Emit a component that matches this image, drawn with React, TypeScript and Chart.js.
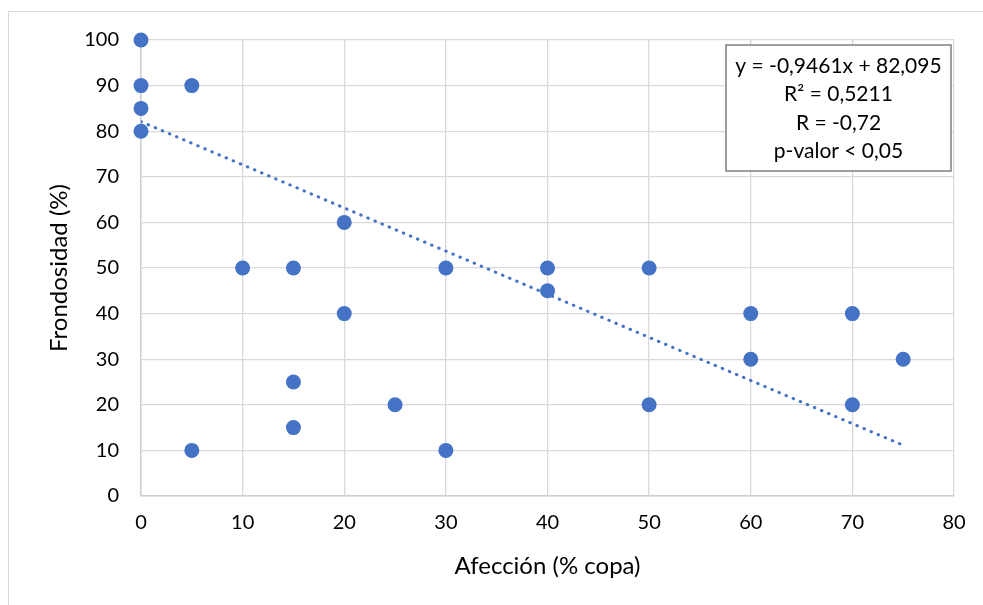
import React, { useEffect, useRef } from "react";
import { Chart, registerables } from "chart.js";

Chart.register(...registerables);

const afeccion = [0, 0, 0, 0, 5, 5, 10, 15, 15, 15, 20, 20, 25, 30, 30, 40, 40, 50, 50, 60, 60, 70, 70, 75];
const frondosidad = [100, 90, 85, 80, 90, 10, 50, 50, 25, 15, 60, 40, 20, 50, 10, 50, 45, 50, 20, 40, 30, 40, 20, 30];
const trendX = [0, 75];
const trendY = [82.095, 11.137];
const xTicks = [0, 10, 20, 30, 40, 50, 60, 70, 80];
const yTicks = [0, 10, 20, 30, 40, 50, 60, 70, 80, 90, 100];
const statLines = ["y = -0,9461x + 82,095", "R² = 0,5211", "R = -0,72", "p-valor < 0,05"];

const FONT = "Lato, 'Open Sans', sans-serif";
const BLUE = "#4472C4";
const GRID = "#d9d9d9";

const statBox = {
  id: "statBox",
  afterDatasetsDraw(chart: any) {
    const { ctx, chartArea } = chart;
    const right = chartArea.right - 3;
    const left = right - 225;
    const top = chartArea.top + 5;
    const h = 126;
    ctx.save();
    ctx.fillStyle = "#ffffff";
    ctx.fillRect(left, top, right - left, h);
    ctx.strokeStyle = "#7f7f7f";
    ctx.lineWidth = 1.5;
    ctx.strokeRect(left, top, right - left, h);
    ctx.fillStyle = "#000000";
    ctx.font = `21px ${FONT}`;
    ctx.textAlign = "center";
    ctx.textBaseline = "middle";
    const cx = (left + right) / 2;
    statLines.forEach((t, i) => {
      ctx.fillText(t, cx, top + 21 + i * 28.5);
    });
    ctx.restore();
  },
};

export default function App() {
  const ref = useRef<HTMLCanvasElement>(null);
  useEffect(() => {
    if (!ref.current) return;
    const chart = new Chart(ref.current, {
      type: "scatter",
      data: {
        datasets: [
          {
            label: "Frondosidad",
            data: afeccion.map((x, i) => ({ x, y: frondosidad[i] })),
            backgroundColor: BLUE,
            borderColor: BLUE,
            pointRadius: 7.5,
            pointHoverRadius: 7.5,
            borderWidth: 0,
            clip: false,
            order: 1,
          } as any,
          {
            type: "line",
            label: "Tendencia",
            data: trendX.map((x, i) => ({ x, y: trendY[i] })),
            borderColor: BLUE,
            borderWidth: 3,
            borderDash: [0.5, 7.2],
            borderCapStyle: "round",
            pointRadius: 0,
            fill: false,
            order: 2,
          } as any,
        ],
      },
      options: {
        animation: false,
        responsive: false,
        maintainAspectRatio: false,
        layout: { padding: { left: 0, right: 29, top: 40, bottom: 0 } },
        plugins: {
          legend: { display: false },
          tooltip: { enabled: false },
        },
        scales: {
          x: {
            type: "linear",
            min: 0,
            max: 80,
            afterFit: (s: any) => { s.height = 109; },
            afterBuildTicks: (s: any) => { s.ticks = xTicks.map((v) => ({ value: v })); },
            grid: { color: GRID, lineWidth: 1.3, drawTicks: false },
            border: { color: "#cfcfcf", width: 1.5 },
            ticks: { color: "#000", font: { family: FONT, size: 20 }, padding: 15 },
            title: {
              display: true,
              text: "Afección (% copa)",
              color: "#000",
              font: { family: FONT, size: 24 },
              padding: { top: 0, bottom: 24 },
            },
          },
          y: {
            type: "linear",
            min: 0,
            max: 100,
            afterFit: (s: any) => { s.width = 141; },
            afterBuildTicks: (s: any) => { s.ticks = yTicks.map((v) => ({ value: v })); },
            grid: { color: GRID, lineWidth: 1.3, drawTicks: false },
            border: { color: "#cfcfcf", width: 1.5 },
            ticks: { color: "#000", font: { family: FONT, size: 20 }, padding: 22 },
            title: {
              display: true,
              text: "Frondosidad (%)",
              color: "#000",
              font: { family: FONT, size: 24 },
              padding: { top: 45, bottom: 0 },
            },
          },
        },
      },
      plugins: [statBox],
    });
    return () => chart.destroy();
  }, []);

  return (
    <div style={{ position: "absolute", left: 0, top: 0, width: 983, height: 605, overflow: "hidden" }}>
      <div
        style={{
          position: "absolute",
          left: 8,
          top: 11,
          width: 1000,
          height: 700,
          borderTop: "1.5px solid #d9d9d9",
          borderLeft: "1.5px solid #d9d9d9",
        }}
      />
      <canvas ref={ref} width={983} height={605} style={{ position: "absolute", left: 0, top: 0 }} />
    </div>
  );
}
